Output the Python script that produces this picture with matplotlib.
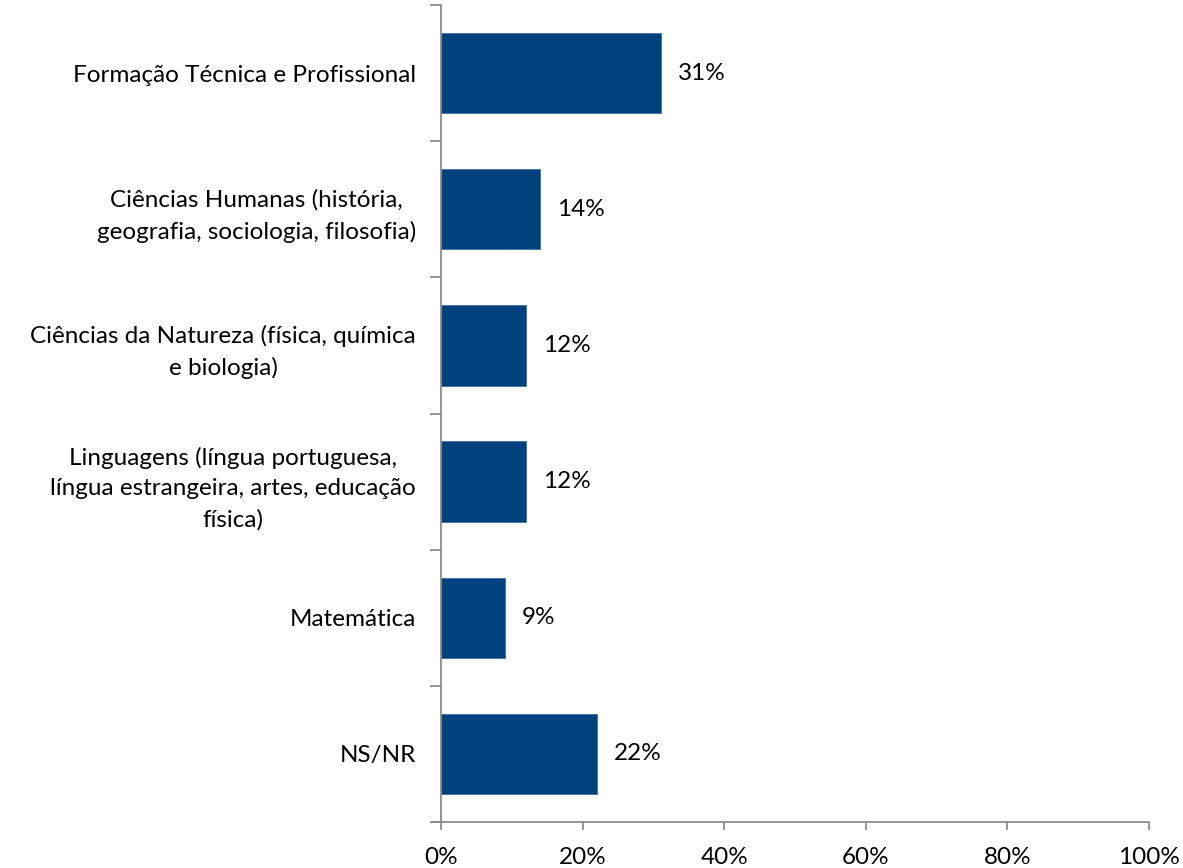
import matplotlib.pyplot as plt
import numpy as np

plt.rcParams['font.family'] = ['Lato', 'DejaVu Sans']

categories = [
    "Formação Técnica e Profissional",
    "Ciências Humanas (história,\ngeografia, sociologia, filosofia)",
    "Ciências da Natureza (física, química\ne biologia)",
    "Linguagens (língua portuguesa,\nlíngua estrangeira, artes, educação\nfísica)",
    "Matemática",
    "NS/NR",
]
values = [31, 14, 12, 12, 9, 22]
xticks = [0, 20, 40, 60, 80, 100]

bar_color = '#00427E'
axis_color = '#8C8C8C'
fs = 17.5

fig = plt.figure(figsize=(11.83, 8.68), dpi=100)
ax = fig.add_axes([0.3728, 0.053, 0.5985, 0.9412])

y = np.arange(len(categories))
ax.barh(y, values, height=0.59, color=bar_color, edgecolor='#3E6FA3', linewidth=0.6)

for yi, v in zip(y, values):
    ax.text(v + 2.4, yi, f"{v}%", va='center', ha='left', fontsize=fs, color='black')

ax.set_xlim(0, 100)
ax.set_ylim(len(categories) - 0.5, -0.5)
ax.set_xticks(xticks)
ax.set_xticklabels([f"{t}%" for t in xticks], fontsize=fs)

ax.set_yticks(y)
ax.set_yticklabels(categories, fontsize=fs, multialignment='center', linespacing=1.55)
ax.set_yticks(np.arange(-0.5, len(categories), 1), minor=True)
ax.tick_params(axis='y', which='major', length=0, pad=18)
ax.tick_params(axis='y', which='minor', length=8, width=1.3, color=axis_color)
ax.tick_params(axis='x', length=6, width=1.3, color=axis_color, pad=12)

for side in ['top', 'right']:
    ax.spines[side].set_visible(False)
for side in ['left', 'bottom']:
    ax.spines[side].set_color(axis_color)
    ax.spines[side].set_linewidth(1.3)

# horizontal axis line runs a little past the vertical axis, as in the original
ax.plot([-1.1, 0], [len(categories) - 0.5] * 2, color=axis_color, lw=1.3, clip_on=False)

fig.savefig('out.png', dpi=100)
